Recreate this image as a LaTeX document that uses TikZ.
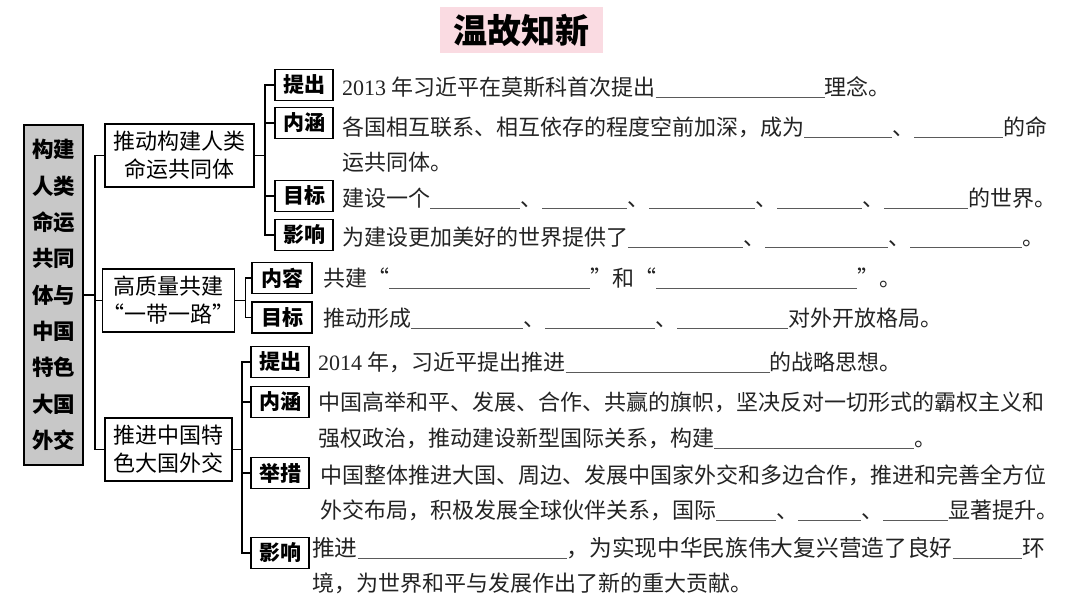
\documentclass[tikz,border=0pt]{standalone}
\usepackage{fontspec}
\setmainfont{Noto Sans CJK SC}
\newfontfamily\lat{Liberation Serif}
\definecolor{pinkbg}{RGB}{250,219,226}
\definecolor{graybox}{RGB}{200,200,200}
\definecolor{txt}{RGB}{35,35,35}
\definecolor{blankc}{RGB}{90,90,90}
\newcommand{\blank}[1]{{\color{blankc}\rule[-3pt]{#1pt}{1.1pt}}}
\begin{document}
\begin{tikzpicture}[x=1pt,y=-1pt,
  box/.style={draw=black,line width=1.6pt,inner sep=0pt,align=center,text=black},
  lab/.style={box,minimum width=58pt,minimum height=31pt,font=\fontsize{21}{24}\selectfont\bfseries},
  mid/.style={box,minimum height=63pt,font=\fontsize{22}{28}\selectfont},
  row/.style={anchor=base west,inner sep=0pt,text=txt,font=\fontsize{22}{26}\selectfont},
  conn/.style={line width=1.6pt,black}]
\useasboundingbox (0,0) rectangle (1080,608);
% title
\node[fill=pinkbg,minimum width=163pt,minimum height=46pt,inner sep=0pt,
      font=\fontsize{34}{36}\selectfont\bfseries] (title) at (521.5,30) {温故知新};
% main box
\node[box,fill=graybox,minimum width=59pt,minimum height=340pt,
      font=\fontsize{21.5}{36.3}\selectfont\bfseries] (main) at (53.5,295)
  {构建\\人类\\命运\\共同\\体与\\中国\\特色\\大国\\外交};
% middle boxes
\node[mid,minimum width=149pt] (b1) at (179.5,155.5) {推动构建人类\\命运共同体};
\node[mid,minimum width=127pt] (b2) at (168.5,300.5) {高质量共建\\“一带一路”};
\node[mid,minimum width=127pt] (b3) at (168.5,449.5) {推进中国特\\色大国外交};
% labels
\node[lab] (l11) at (304,85) {提出};
\node[lab] (l12) at (304,123) {内涵};
\node[lab] (l13) at (304,196) {目标};
\node[lab] (l14) at (304,235) {影响};
\node[lab,minimum width=60pt] (l21) at (282,278) {内容};
\node[lab,minimum width=60pt] (l22) at (282,317.5) {目标};
\node[lab] (l31) at (280,362) {提出};
\node[lab] (l32) at (280,402) {内涵};
\node[lab] (l33) at (280,473) {举措};
\node[lab] (l34) at (280,553) {影响};
% connectors
\foreach \c in {b1,b2,b3} \draw[conn] (main.east) -- ++(11,0) |- (\c.west);
\foreach \c in {l11,l12,l13,l14} \draw[conn] (b1.east) -- ++(10,0) |- (\c.west);
\foreach \c in {l21,l22} \draw[conn] (b2.east) -- ++(10,0) |- (\c.west);
\foreach \c in {l31,l32,l33,l34} \draw[conn] (b3.east) -- ++(9,0) |- (\c.west);
% text rows
\node[row] (r1) at (342,95) {{\lat 2013\ }年习近平在莫斯科首次提出\blank{169}理念。};
\node[row] (r2) at (342,135) {各国相互联系、相互依存的程度空前加深，成为\blank{88}、\blank{89}的命};
\node[row] (r3) at (342,170) {运共同体。};
\node[row] (r4) at (342,206) {建设一个\blank{90}、\blank{85}、\blank{106}、\blank{85}、\blank{84}的世界。};
\node[row] (r5) at (342,245) {为建设更加美好的世界提供了\blank{115}、\blank{123}、\blank{112}。};
\node[row] (r6) at (323,286) {共建“\blank{201}”和“\blank{201}”。};
\node[row] (r7) at (323,326) {推动形成\blank{112}、\blank{110}、\blank{111}对外开放格局。};
\node[row] (r8) at (318,370) {{\lat 2014\ }年，习近平提出推进\blank{204}的战略思想。};
\node[row] (r9) at (318,410) {中国高举和平、发展、合作、共赢的旗帜，坚决反对一切形式的霸权主义和};
\node[row] (r10) at (318,446) {强权政治，推动建设新型国际关系，构建\blank{200}。};
\node[row] (r11) at (320,483) {中国整体推进大国、周边、发展中国家外交和多边合作，推进和完善全方位};
\node[row] (r12) at (320,518) {外交布局，积极发展全球伙伴关系，国际\blank{60}、\blank{63}、\blank{65}显著提升。};
\node[row,font=\fontsize{22.7}{26}\selectfont] (r13) at (312,556) {推进\blank{209}，为实现中华民族伟大复兴营造了良好\blank{70}环};
\node[row] (r14) at (312,591) {境，为世界和平与发展作出了新的重大贡献。};
\end{tikzpicture}
\end{document}
